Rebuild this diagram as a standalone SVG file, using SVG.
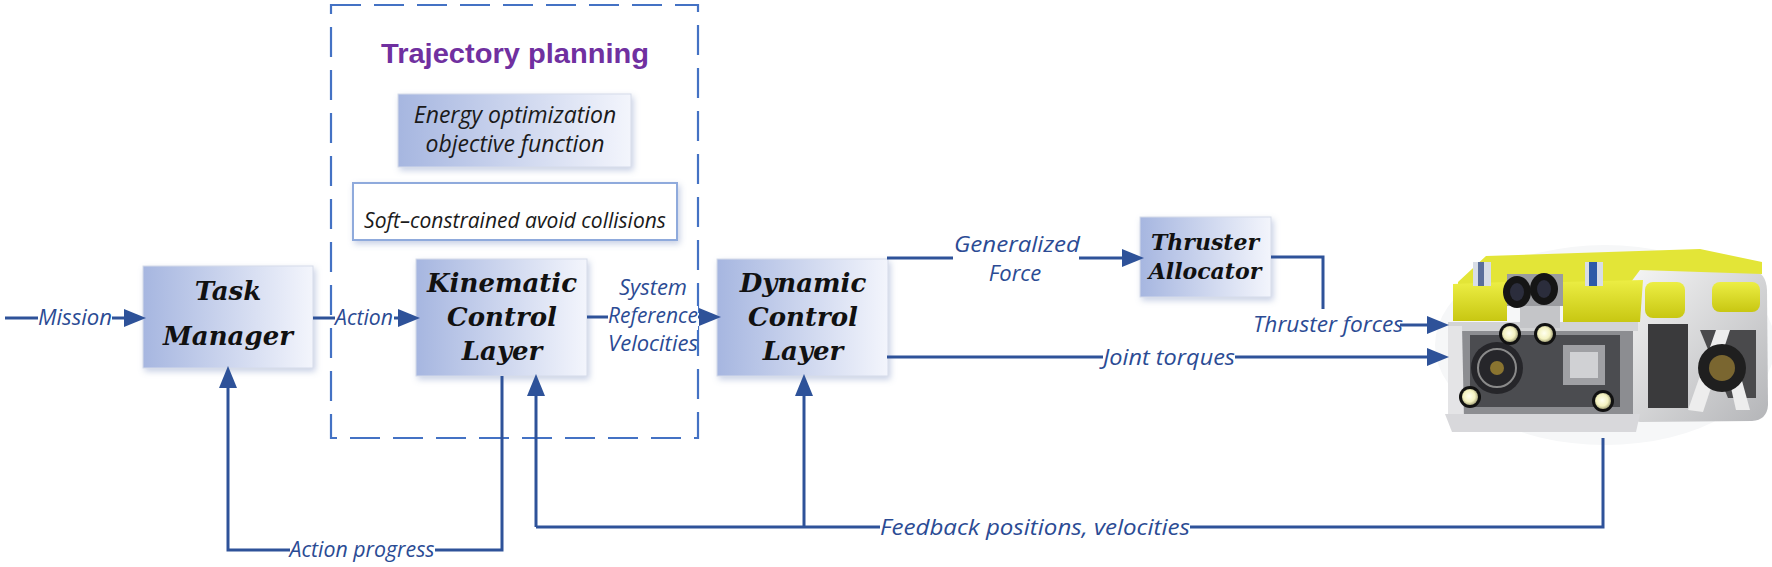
<svg xmlns="http://www.w3.org/2000/svg" width="1772" height="567" viewBox="0 0 1772 567">
<style>
.node{font-family:"DejaVu Serif","Liberation Serif",serif;font-weight:bold;font-style:italic;fill:#111;text-anchor:middle}
.lbl{font-family:"Open Sans","Noto Sans",sans-serif;font-style:italic;font-size:22px;fill:#2B4B94;text-anchor:middle}
.gap{fill:#fff}
.inner{font-family:"Open Sans","Noto Sans",sans-serif;font-style:italic;fill:#1a1a1a;text-anchor:middle}
.box{fill:url(#boxg);stroke:#D5DBEA;stroke-width:1;filter:url(#sh)}
.wire{fill:none;stroke:#2E5299;stroke-width:3}
.arr{marker-end:url(#ah)}
</style>
<defs>
<linearGradient id="boxg" x1="0" y1="0" x2="1" y2="0">
<stop offset="0" stop-color="#A6B6E0"/>
<stop offset="1" stop-color="#F3F5FC"/>
</linearGradient>
<linearGradient id="yel" x1="0" y1="0" x2="0" y2="1">
<stop offset="0" stop-color="#ECEE44"/>
<stop offset="1" stop-color="#C8C712"/>
</linearGradient>
<linearGradient id="gry" x1="0" y1="0" x2="1" y2="1">
<stop offset="0" stop-color="#F6F6F6"/>
<stop offset="1" stop-color="#B4B5B8"/>
</linearGradient>
<radialGradient id="lamp" cx="0.45" cy="0.45" r="0.6">
<stop offset="0" stop-color="#FFFFF0"/>
<stop offset="0.6" stop-color="#F4F2C0"/>
<stop offset="1" stop-color="#9A9870"/>
</radialGradient>
<filter id="sh" x="-10%" y="-10%" width="125%" height="130%">
<feDropShadow dx="2" dy="3" stdDeviation="3" flood-color="#8295C4" flood-opacity="0.45"/>
</filter>
<marker id="ah" markerUnits="userSpaceOnUse" markerWidth="24" markerHeight="20" refX="10" refY="9" orient="auto">
<path d="M0,0 L22,9 L0,18 z" fill="#2E5299"/>
</marker>
</defs>
<rect width="1772" height="567" fill="#fff"/>

<g id="trajectory-planning">
<rect x="331" y="5" width="367" height="433" fill="none" stroke="#4472C4" stroke-width="2.2" stroke-dasharray="30 13"/>
<text x="515" y="63" text-anchor="middle" font-family="Liberation Sans, Arial, sans-serif" font-weight="bold" font-size="28" fill="#7030A0" textLength="268" lengthAdjust="spacingAndGlyphs">Trajectory planning</text>
</g>

<g id="energy-optimization">
<rect class="box" x="398" y="94" width="233" height="73"/>
<text class="inner" x="515" y="123" font-size="23">Energy optimization</text>
<text class="inner" x="515" y="152" font-size="23">objective function</text>
</g>

<g id="soft-constrained">
<rect x="353" y="183" width="324" height="57" fill="#fff" stroke="#8FAADC" stroke-width="2" filter="url(#sh)"/>
<text class="inner" x="515" y="228" font-size="21">Soft–constrained avoid collisions</text>
</g>

<g id="task-manager">
<rect class="box" x="143" y="266" width="170" height="102"/>
<text class="node" x="228" y="300" font-size="26">Task</text>
<text class="node" x="228" y="345" font-size="26">Manager</text>
</g>

<g id="kinematic-control-layer">
<rect class="box" x="416" y="259" width="171" height="117"/>
<text class="node" x="502" y="292" font-size="26">Kinematic</text>
<text class="node" x="502" y="326" font-size="26">Control</text>
<text class="node" x="502" y="360" font-size="26">Layer</text>
</g>

<g id="dynamic-control-layer">
<rect class="box" x="717" y="259" width="171" height="117"/>
<text class="node" x="803" y="292" font-size="26">Dynamic</text>
<text class="node" x="803" y="326" font-size="26">Control</text>
<text class="node" x="803" y="360" font-size="26">Layer</text>
</g>

<g id="thruster-allocator">
<rect class="box" x="1140" y="217" width="131" height="80"/>
<text class="node" x="1205" y="250" font-size="22">Thruster</text>
<text class="node" x="1205" y="279" font-size="22">Allocator</text>
</g>

<g id="rov">
<ellipse cx="1605" cy="345" rx="170" ry="100" fill="#F6F7F8"/>
<path d="M1628,276 Q1630,268 1640,268 L1752,270 Q1766,272 1767,290 L1768,405 Q1767,420 1752,421 L1640,422 Q1626,420 1626,405 Z" fill="url(#gry)"/>
<path d="M1648,324 L1688,324 L1688,408 L1648,408 Z" fill="#3a3a3c"/>
<path d="M1700,330 L1756,330 L1756,398 L1728,398 Z" fill="#4a4a4c"/>
<path d="M1688,410 L1716,330 L1730,330 L1703,412 Z" fill="#EDEDED"/>
<path d="M1736,410 L1722,348 L1733,348 L1750,410 Z" fill="#EDEDED"/>
<circle cx="1722" cy="368" r="24" fill="#1f1f1f"/>
<circle cx="1722" cy="368" r="13" fill="#7a6630"/>
<rect x="1645" y="282" width="40" height="36" rx="8" fill="url(#yel)"/>
<rect x="1712" y="282" width="48" height="30" rx="8" fill="url(#yel)"/>
<rect x="1448" y="326" width="185" height="92" fill="#8C8D91"/>
<rect x="1470" y="335" width="150" height="72" fill="#4B4C50"/>
<rect x="1448" y="322" width="190" height="9" fill="#D2D3D5"/>
<path d="M1448,326 L1462,326 L1464,420 L1448,420 Z" fill="#E4E4E6"/>
<path d="M1445,414 L1640,414 L1636,432 L1452,432 Z" fill="#D8D8DB"/>
<rect x="1520" y="300" width="40" height="28" fill="#C4C5C8"/>
<circle cx="1497" cy="368" r="26" fill="#26262a"/>
<circle cx="1497" cy="368" r="19" fill="none" stroke="#8a8a8a" stroke-width="2"/>
<circle cx="1497" cy="368" r="7" fill="#8a7430"/>
<rect x="1563" y="345" width="42" height="40" fill="#9FA0A4"/>
<rect x="1570" y="352" width="28" height="26" fill="#D0D1D4"/>
<circle cx="1510" cy="334" r="11" fill="#111"/><circle cx="1510" cy="334" r="8" fill="url(#lamp)"/>
<circle cx="1545" cy="334" r="11" fill="#111"/><circle cx="1545" cy="334" r="8" fill="url(#lamp)"/>
<circle cx="1470" cy="397" r="11" fill="#111"/><circle cx="1470" cy="397" r="8" fill="url(#lamp)"/>
<circle cx="1603" cy="401" r="11" fill="#111"/><circle cx="1603" cy="401" r="8" fill="url(#lamp)"/>
<path d="M1458,282 L1486,256 L1700,249 L1762,262 L1762,274 L1640,270 L1628,286 L1458,292 Z" fill="#E3E537"/>
<path d="M1453,284 L1507,282 L1507,321 L1453,321 Z" fill="url(#yel)"/>
<path d="M1563,282 L1643,280 L1640,322 L1563,322 Z" fill="url(#yel)"/>
<path d="M1507,274 L1563,274 L1563,306 L1507,306 Z" fill="#9a9b9f"/>
<rect x="1473" y="262" width="18" height="24" fill="#D8DDE6"/>
<rect x="1478" y="262" width="6" height="24" fill="#5A6E9A"/>
<rect x="1585" y="262" width="18" height="24" fill="#D8DDE6"/>
<rect x="1589" y="262" width="8" height="24" fill="#2D5AA8"/>
<ellipse cx="1517" cy="292" rx="14" ry="16" fill="#151515"/>
<ellipse cx="1544" cy="289" rx="14" ry="16" fill="#151515"/>
<ellipse cx="1517" cy="292" rx="7" ry="9" fill="#2b2d3c"/>
<ellipse cx="1544" cy="289" rx="7" ry="9" fill="#2b2d3c"/>
</g>

<g id="connectors">
<path class="wire arr" d="M5,318 L134,318"/>
<path class="wire arr" d="M313,318 L408,318"/>
<path class="wire arr" d="M587,317 L709,317"/>
<path class="wire arr" d="M887,258 L1132,258"/>
<path class="wire" d="M1271,257 L1323,257 L1323,309"/>
<path class="wire arr" d="M1400,325 L1437,325"/>
<path class="wire arr" d="M887,357 L1437,357"/>
<path class="wire arr" d="M502,376 L502,550 L228,550 L228,378"/>
<path class="wire" d="M1603,438 L1603,527 L536,527"/>
<path class="wire arr" d="M536,527 L536,386"/>
<path class="wire arr" d="M804,527 L804,386"/>
<rect class="gap" x="38" y="306" width="74" height="24"/>
<rect class="gap" x="335" y="306" width="59" height="24"/>
<rect class="gap" x="608" y="306" width="90" height="24"/>
<rect class="gap" x="953" y="248" width="126" height="20"/>
<rect class="gap" x="1103" y="347" width="132" height="22"/>
<rect class="gap" x="290" y="539" width="145" height="22"/>
<rect class="gap" x="880" y="516" width="310" height="22"/>
<text class="lbl" x="75" y="325" textLength="74" lengthAdjust="spacingAndGlyphs">Mission</text>
<text class="lbl" x="364" y="325" textLength="58" lengthAdjust="spacingAndGlyphs">Action</text>
<text class="lbl" x="653" y="295" font-size="19">System</text>
<text class="lbl" x="653" y="323" font-size="19" textLength="90" lengthAdjust="spacingAndGlyphs">Reference</text>
<text class="lbl" x="653" y="351" font-size="19">Velocities</text>
<text class="lbl" x="1017" y="252" textLength="126" lengthAdjust="spacingAndGlyphs">Generalized</text>
<text class="lbl" x="1015" y="281">Force</text>
<text class="lbl" x="1328" y="332" textLength="150" lengthAdjust="spacingAndGlyphs">Thruster forces</text>
<text class="lbl" x="1169" y="365" textLength="132" lengthAdjust="spacingAndGlyphs">Joint torques</text>
<text class="lbl" x="362" y="557" textLength="145" lengthAdjust="spacingAndGlyphs">Action progress</text>
<text class="lbl" x="1035" y="535" textLength="310" lengthAdjust="spacingAndGlyphs">Feedback positions, velocities</text>
</g>
</svg>
